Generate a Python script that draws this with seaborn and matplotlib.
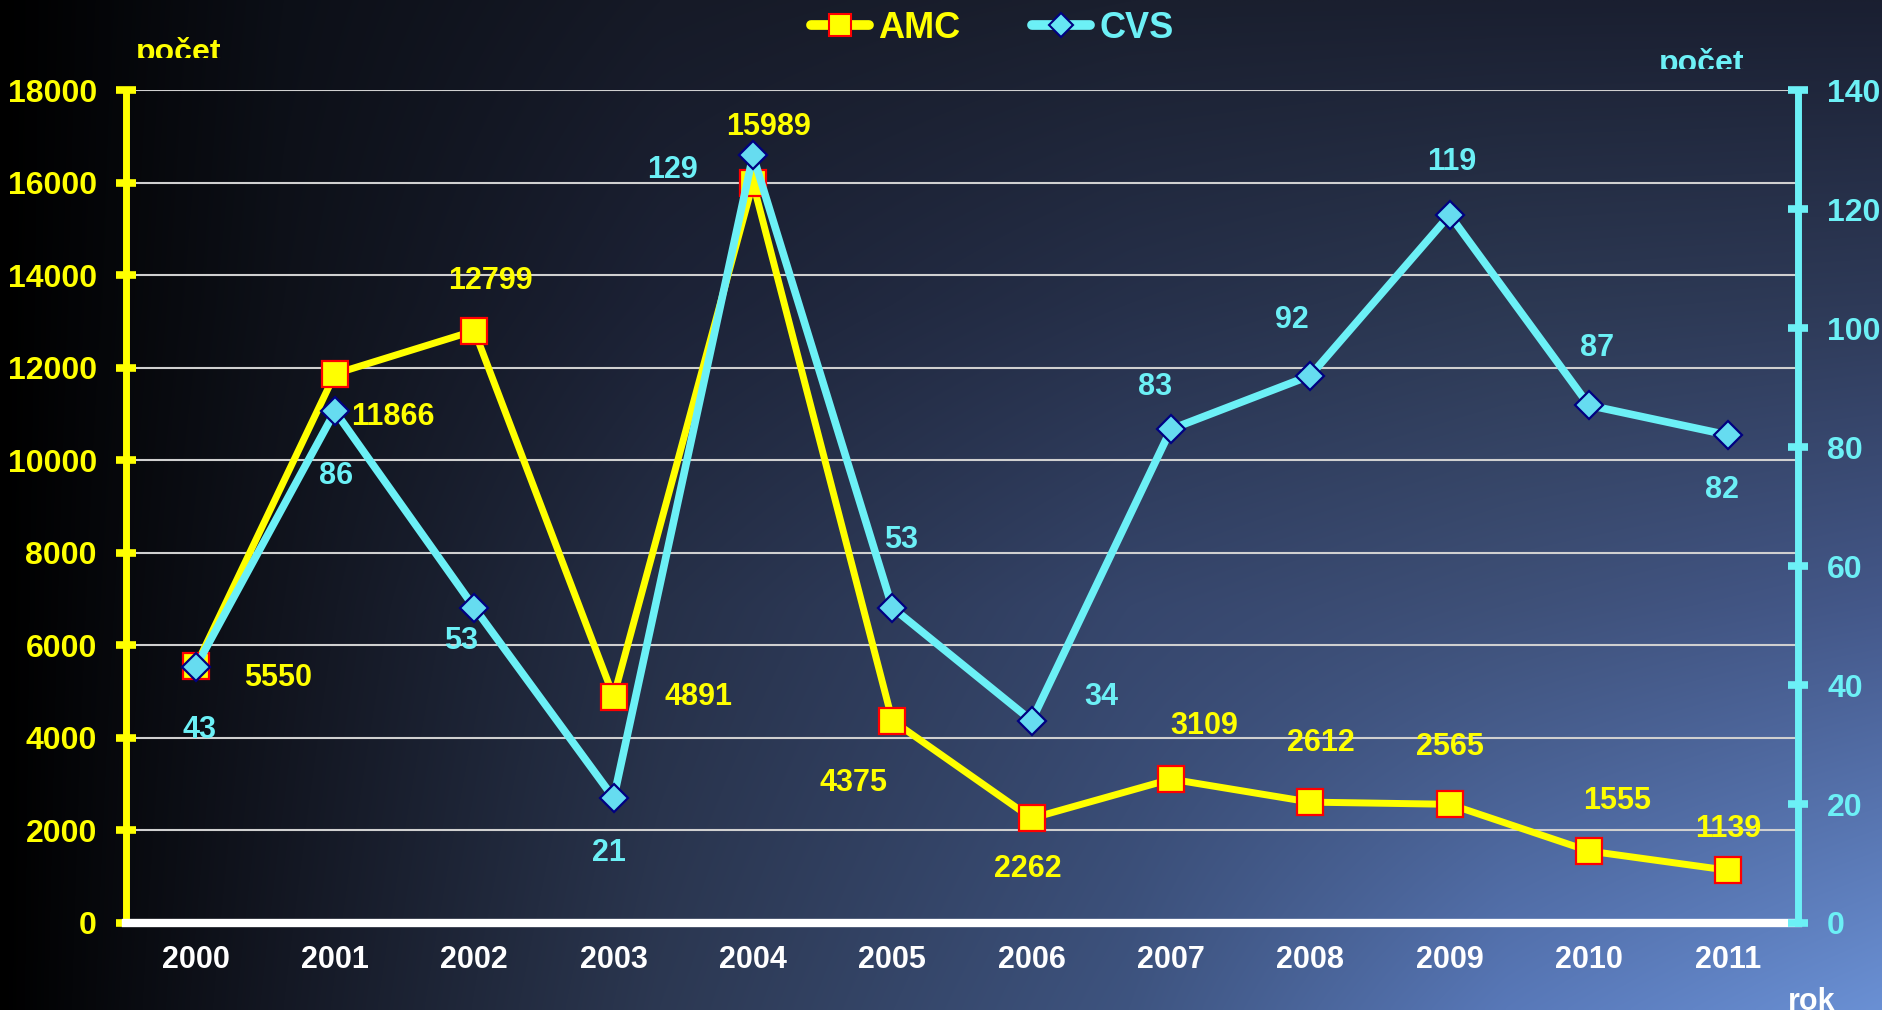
import numpy as np
import matplotlib
matplotlib.use('Agg')
import matplotlib.pyplot as plt
from matplotlib.lines import Line2D
from matplotlib.transforms import Bbox
import seaborn as sns

# data
years = ['2000', '2001', '2002', '2003', '2004', '2005',
         '2006', '2007', '2008', '2009', '2010', '2011']
amc = [5550, 11866, 12799, 4891, 15989, 4375, 2262, 3109, 2612, 2565, 1555, 1139]
cvs = [43, 86, 53, 21, 129, 53, 34, 83, 92, 119, 87, 82]

# label offsets (px of the shrunk picture, y downwards)
amc_off = [(69, 10), (48, 36), (13, -41), (71, 0), (13, -47), (-32, 52),
           (-3, 42), (28, -44), (9, -49), (0, -48), (23, -42), (0, -34)]
cvs_off = [(3, 52), (1, 54), (-11, 28), (-4, 46), (-67, 12), (7, -56),
           (58, -20), (-13, -35), (-15, -46), (2, -44), (7, -48), (-5, 46)]

YELLOW = '#ffff00'
CYAN = '#6cf0f6'
W, H = 1883, 1010

sns.set_style('white')
plt.rcParams['font.family'] = ['Liberation Sans', 'DejaVu Sans']
plt.rcParams['font.weight'] = 'bold'

fig = plt.figure(figsize=(W / 100, H / 100), dpi=100)

# background gradient (black on the left, blue glow bottom right)
gx = [0, 0.15, 0.35, 0.6, 0.8, 1.0]
gy = [0, 0.3, 0.6, 1.0]
grid_cols = [
    ['#000000', '#0c0f17', '#161a27', '#1a1f2e', '#1a1f30', '#1a1f31'],
    ['#000000', '#0e1119', '#1c2236', '#26304a', '#2c3852', '#2e3a58'],
    ['#000000', '#11141e', '#263048', '#36466c', '#3e5078', '#44588a'],
    ['#000000', '#141824', '#2c3852', '#3e5480', '#5878b8', '#6a90d4'],
]
rgb = np.array([[matplotlib.colors.to_rgb(c) for c in row] for row in grid_cols])
xx = np.linspace(0, 1, 600)
yy = np.linspace(0, 1, 300)
rows = np.stack([np.stack([np.interp(xx, gx, rgb[r, :, k]) for k in range(3)], -1)
                 for r in range(len(gy))])
img = np.stack([np.stack([np.interp(yy, gy, rows[:, i, k]) for k in range(3)], -1)
                for i in range(len(xx))], 1)
bg = fig.add_axes([0, 0, 1, 1], zorder=-10)
bg.imshow(img, aspect='auto', extent=[0, 1, 0, 1], interpolation='bilinear')
bg.axis('off')

ax = fig.add_axes([126 / W, 87 / H, (1798 - 126) / W, 833 / H])
ax.set_facecolor('none')
pos = np.arange(len(years))

sns.lineplot(x=pos, y=amc, ax=ax, color=YELLOW, lw=5, marker='s', markersize=19,
             markerfacecolor=YELLOW, markeredgecolor='#ff0000', markeredgewidth=1.6,
             zorder=5)
ax.set_ylim(0, 18000)
ax.set_xlim(-0.5, 11.5)
ax.set_yticks(range(0, 18001, 2000))
ax.yaxis.grid(True, color='#d0d0d0', lw=1.5)
ax.set_axisbelow(True)
ax.set_xticks(np.arange(-0.5, 12, 1))
ax.set_xticklabels([])
ax.set_xticks(pos, minor=True)
ax.set_xticklabels(years, minor=True)
ax.tick_params(axis='x', which='major', direction='inout', length=14, width=5, color='white')
ax.tick_params(axis='x', which='minor', length=0, pad=16, labelsize=22, labelcolor='white')
ax.tick_params(axis='y', direction='inout', length=14, width=5.5, color=YELLOW,
               pad=14, labelsize=23, labelcolor=YELLOW)
for s in ['top', 'right']:
    ax.spines[s].set_visible(False)
ax.spines['left'].set_color(YELLOW)
ax.spines['left'].set_linewidth(5)
ax.spines['bottom'].set_color('white')
ax.spines['bottom'].set_linewidth(6)
ax.spines['bottom'].set_zorder(3)
ax.set_xlabel('')
ax.set_ylabel('')

for i, v in enumerate(amc):
    dx, dy = amc_off[i]
    ax.annotate(str(v), xy=(i, v), xytext=(dx * 0.865, -dy * 0.865),
                textcoords='offset points', ha='center', va='center',
                color=YELLOW, fontsize=22, fontweight='bold', zorder=6)

ax2 = ax.twinx()
ax2.set_facecolor('none')
sns.lineplot(x=pos, y=cvs, ax=ax2, color=CYAN, lw=5.5, marker='D', markersize=14,
             markerfacecolor='#66dcf0', markeredgecolor='#000080', markeredgewidth=1.6,
             zorder=5)
ax2.set_ylim(0, 140)
ax2.set_yticks(range(0, 141, 20))
ax2.tick_params(axis='y', direction='inout', length=14, width=5.5, color=CYAN,
                pad=14, labelsize=23, labelcolor=CYAN)
for s in ['top', 'left', 'bottom']:
    ax2.spines[s].set_visible(False)
ax2.spines['right'].set_color(CYAN)
ax2.spines['right'].set_linewidth(5)
ax2.set_ylabel('')
ax2.grid(False)

for i, v in enumerate(cvs):
    dx, dy = cvs_off[i]
    ax2.annotate(str(v), xy=(i, v), xytext=(dx * 0.865, -dy * 0.865),
                 textcoords='offset points', ha='center', va='center',
                 color=CYAN, fontsize=22, fontweight='bold', zorder=6)

# axis titles, cut off at the bottom like in the original
t1 = fig.text(179 / W, (H - 61) / H, 'počet', ha='center', va='baseline',
              color=YELLOW, fontsize=23, fontweight='bold')
t1.set_clip_box(Bbox.from_extents(0, H - 58, W, H))
t1.set_clip_on(True)
t2 = fig.text(1702 / W, (H - 72) / H, 'počet', ha='center', va='baseline',
              color=CYAN, fontsize=23, fontweight='bold')
t2.set_clip_box(Bbox.from_extents(0, H - 69, W, H))
t2.set_clip_on(True)
fig.text(1812 / W, 0.0, 'rok', ha='center', va='baseline',
         color='white', fontsize=22, fontweight='bold')

handles = [
    Line2D([], [], color=YELLOW, lw=7, marker='s', markersize=16, markerfacecolor=YELLOW,
           markeredgecolor='#ff0000', markeredgewidth=1.5, solid_capstyle='round'),
    Line2D([], [], color=CYAN, lw=7, marker='D', markersize=12, markerfacecolor='#66e4f4',
           markeredgecolor='#000080', markeredgewidth=1.5, solid_capstyle='round'),
]
fig.legend(handles, ['AMC', 'CVS'], loc='center', bbox_to_anchor=(0.527, 0.972), ncol=2,
           frameon=False, prop={'size': 26, 'weight': 'bold'}, handlelength=1.6,
           handletextpad=0.25, columnspacing=2.0, labelcolor=[YELLOW, CYAN])

fig.savefig('out.png', dpi=100)
